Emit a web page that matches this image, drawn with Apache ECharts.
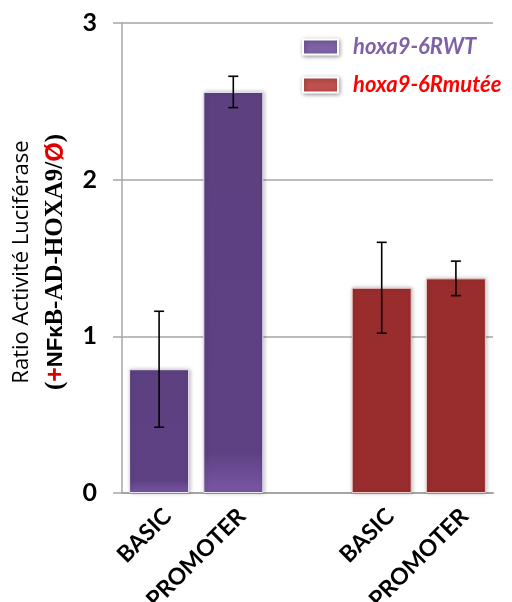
<!DOCTYPE html>
<html><head><meta charset="utf-8">
<script src="https://cdn.jsdelivr.net/npm/echarts@6/dist/echarts.min.js"></script>
<style>html,body{margin:0;padding:0;background:#fff}#c{width:512px;height:602px}</style>
</head><body><div id="c"></div>
<script>
const categories = ['BASIC', 'PROMOTER', '', 'BASIC', 'PROMOTER'];
const seriesNames = ['hoxa9-6RWT', 'hoxa9-6Rmutée'];
const wtValues = [0.79, 2.56, null, null, null];
const mutValues = [null, null, null, 1.31, 1.37];
const wtErr = [0.37, 0.10, null, null, null];
const mutErr = [null, null, null, 0.29, 0.11];
const yTicks = [0, 1, 2, 3];

const errData = [];
[[wtValues, wtErr], [mutValues, mutErr]].forEach(([v, e]) => {
  v.forEach((val, i) => { if (val != null && e[i] != null) errData.push([i, val - e[i], val + e[i]]); });
});

const chart = echarts.init(document.getElementById('c'));
chart.setOption({
  animation: false,
  grid: { left: 122, right: 19, top: 23, bottom: 109, containLabel: false, outerBoundsMode: 'none' },
  legend: {
    orient: 'vertical', left: 302, top: 36, padding: 0, itemWidth: 35, itemHeight: 15, itemGap: 16,
    icon: 'rect',
    itemStyle: { borderColor: '#fff', borderWidth: 2, shadowColor: 'rgba(0,0,0,0.35)', shadowBlur: 4, shadowOffsetX: 1, shadowOffsetY: 1 },
    textStyle: { fontFamily: 'Lato', fontWeight: 'bold', fontStyle: 'italic', fontSize: 22, padding: [0, 0, 0, 10] },
    data: [
      { name: seriesNames[0], itemStyle: { color: '#7f62a6' }, textStyle: { color: '#7f62a6' } },
      { name: seriesNames[1], itemStyle: { color: '#c0504d' }, textStyle: { color: '#ff0000' } }
    ]
  },
  xAxis: {
    type: 'category', data: categories,
    axisLine: { lineStyle: { color: '#a6a6a6', width: 2 } },
    axisTick: { show: false },
    axisLabel: { interval: 0, rotate: 45, margin: 28, padding: [0, -12, 0, 0], color: '#000', fontFamily: 'Lato', fontWeight: 'bold', fontSize: 23 }
  },
  yAxis: {
    type: 'value', min: 0, max: 3, interval: 1,
    axisLine: { show: true, lineStyle: { color: '#a6a6a6', width: 1.5 } },
    axisTick: { show: true, length: 9, lineStyle: { color: '#a6a6a6', width: 1.5 } },
    splitLine: { lineStyle: { color: '#a6a6a6', width: 1.5 } },
    axisLabel: { margin: 25, color: '#000', fontFamily: 'Lato', fontWeight: 'bold', fontSize: 25,
      formatter: v => yTicks.includes(v) ? String(v) : '' }
  },
  graphic: [
    { type: 'text', x: 22, y: 262, rotation: Math.PI / 2,
      style: { text: 'Ratio Activité Luciférase', fontFamily: 'Open Sans', fontSize: 22, fill: '#000', align: 'center', verticalAlign: 'middle' } },
    { type: 'text', x: 56, y: 262, rotation: Math.PI / 2,
      style: {
        text: '{s|(}{r|+}{b|NFκ}{s|B-AD-HOXA9/}{r|Ø}{s|)}',
        align: 'center', verticalAlign: 'middle',
        rich: {
          s: { fontFamily: 'Liberation Serif', fontWeight: 'bold', fontSize: 25, fill: '#000' },
          b: { fontFamily: 'Liberation Sans', fontWeight: 'bold', fontSize: 22, fill: '#000' },
          r: { fontFamily: 'Liberation Sans', fontWeight: 'bold', fontSize: 25, fill: '#e00000' }
        }
      } }
  ],
  series: [
    { name: seriesNames[0], type: 'bar', data: wtValues, barWidth: 60, barGap: '-100%',
      itemStyle: {
        color: new echarts.graphic.LinearGradient(0, 0, 0, 1, [
          { offset: 0, color: '#5c4080' }, { offset: 0.9, color: '#5e4183' }, { offset: 1, color: '#7a58a6' }
        ]),
        borderColor: '#e8e4ee', borderWidth: 1, shadowColor: 'rgba(0,0,0,0.25)', shadowBlur: 4, shadowOffsetX: 1
      } },
    { name: seriesNames[1], type: 'bar', data: mutValues, barWidth: 60, barGap: '-100%',
      itemStyle: { color: '#992d2d', borderColor: '#e9caca', borderWidth: 1, shadowColor: 'rgba(0,0,0,0.25)', shadowBlur: 4, shadowOffsetX: 1 } },
    { type: 'custom', data: errData, z: 10, silent: true,
      renderItem: (params, api) => {
        const x = api.value(0);
        const lo = api.coord([x, api.value(1)]);
        const hi = api.coord([x, api.value(2)]);
        const cap = 5;
        const st = { stroke: '#000', lineWidth: 1.6 };
        return { type: 'group', children: [
          { type: 'line', shape: { x1: lo[0], y1: lo[1], x2: hi[0], y2: hi[1] }, style: st },
          { type: 'line', shape: { x1: lo[0] - cap, y1: lo[1], x2: lo[0] + cap, y2: lo[1] }, style: st },
          { type: 'line', shape: { x1: hi[0] - cap, y1: hi[1], x2: hi[0] + cap, y2: hi[1] }, style: st }
        ] };
      } }
  ]
});
</script></body></html>
